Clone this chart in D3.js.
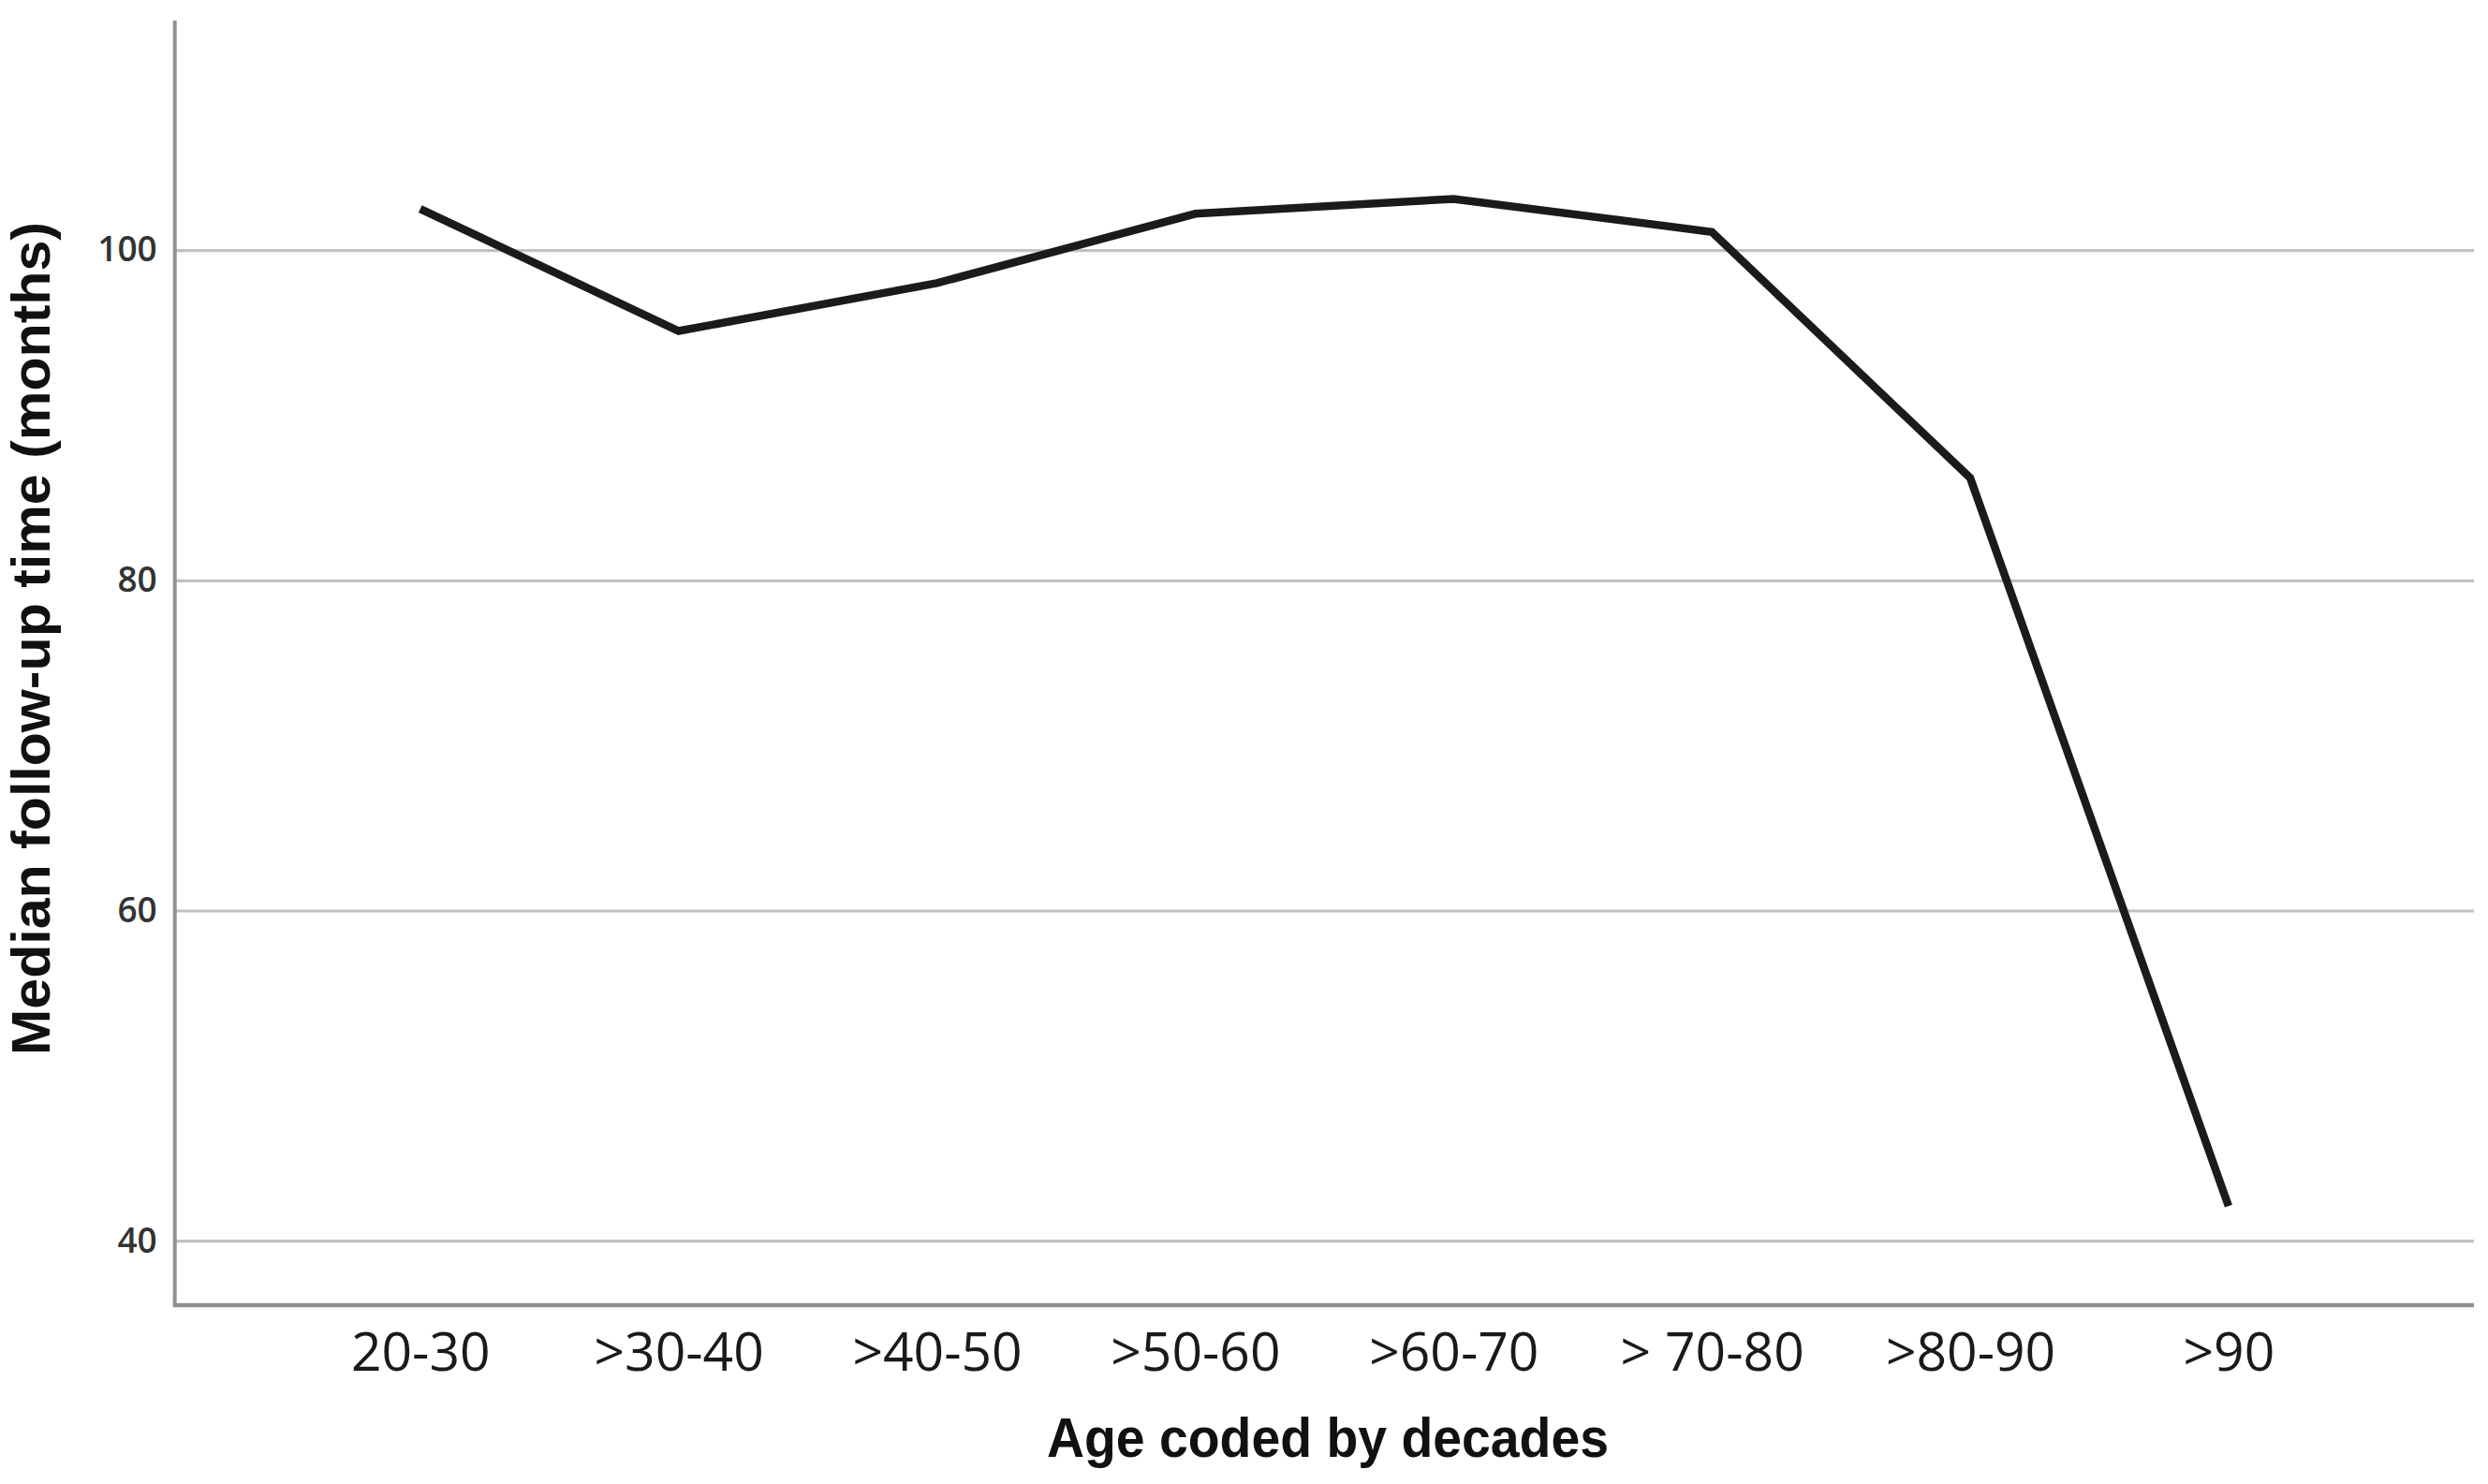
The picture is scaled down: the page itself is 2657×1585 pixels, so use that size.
<!DOCTYPE html>
<html>
<head>
<meta charset="utf-8">
<script src="https://cdn.jsdelivr.net/npm/d3@7"></script>
<style>
  html, body { margin: 0; padding: 0; background: #fff; }
  svg { display: block; }
</style>
</head>
<body>
<svg id="chart" width="2657" height="1585"></svg>
<script>
const categories = ["20-30", ">30-40", ">40-50", ">50-60", ">60-70", "> 70-80", ">80-90", ">90"];
const medianFollowUp = [102.5, 95.1, 98.0, 102.2, 103.1, 101.1, 86.2, 42.1];
const yTickValues = [40, 60, 80, 100];
const xTitle = "Age coded by decades";
const yTitle = "Median follow-up time (months)";

(function () {
const plotLeft = 186.7, plotRight = 2642, plotTop = 22, plotBottom = 1394;

const svg = d3.select("#chart");

const x = d3.scalePoint().domain(categories).range([plotLeft, plotRight]).padding(0.95);
const y = d3.scaleLinear().domain([36.1, 113.9]).range([plotBottom, plotTop]);

// gridlines
const grid = svg.append("g")
  .attr("transform", `translate(${plotLeft},0)`)
  .call(d3.axisLeft(y).tickValues(yTickValues).tickSize(-(plotRight - plotLeft)).tickFormat(""));
grid.select(".domain").remove();
grid.selectAll(".tick line").attr("stroke", "#bfc2c4").attr("stroke-width", 3.2);

// y axis labels
const yAxis = svg.append("g")
  .attr("transform", `translate(${plotLeft},0)`)
  .call(d3.axisLeft(y).tickValues(yTickValues).tickSize(0).tickPadding(19));
yAxis.select(".domain").remove();
yAxis.selectAll(".tick text")
  .attr("font-family", "'Open Sans', 'DejaVu Sans', sans-serif")
  .attr("font-size", 37)
  .attr("font-weight", 600)
  .attr("fill", "#333");

// x axis labels
const xAxis = svg.append("g")
  .attr("transform", `translate(0,${plotBottom})`)
  .call(d3.axisBottom(x).tickSize(0).tickPadding(29.5));
xAxis.select(".domain").remove();
xAxis.selectAll(".tick text")
  .attr("font-family", "'Open Sans', 'DejaVu Sans', sans-serif")
  .attr("font-size", 57)
  .attr("font-weight", 500)
  .attr("fill", "#1a1a1a");

// axis lines
svg.append("line")
  .attr("x1", plotLeft).attr("x2", plotLeft)
  .attr("y1", y.range()[1]).attr("y2", y.range()[0])
  .attr("stroke", "#8e9193").attr("stroke-width", 4);
svg.append("line")
  .attr("x1", plotLeft - 2).attr("x2", plotRight)
  .attr("y1", y.range()[0]).attr("y2", y.range()[0])
  .attr("stroke", "#8e9193").attr("stroke-width", 4.5);

// data line
const line = d3.line()
  .x((d, i) => x(categories[i]))
  .y(d => y(d));
svg.append("path")
  .datum(medianFollowUp)
  .attr("d", line)
  .attr("fill", "none")
  .attr("stroke", "#1c1a1b")
  .attr("stroke-width", 8.5)
  .attr("stroke-linejoin", "miter")
  .attr("stroke-linecap", "butt");

// titles
svg.append("text")
  .attr("x", 1418).attr("y", 1556)
  .attr("text-anchor", "middle")
  .attr("font-family", "'Liberation Sans Narrow', 'Liberation Sans', Arial, sans-serif")
  .attr("font-weight", "bold")
  .attr("font-size", 60)
  .attr("textLength", 600)
  .attr("lengthAdjust", "spacingAndGlyphs")
  .attr("fill", "#111")
  .text(xTitle);

svg.append("text")
  .attr("transform", "translate(53,682) rotate(-90)")
  .attr("text-anchor", "middle")
  .attr("font-family", "'Liberation Sans Narrow', 'Liberation Sans', Arial, sans-serif")
  .attr("font-weight", "bold")
  .attr("font-size", 57)
  .attr("textLength", 890)
  .attr("lengthAdjust", "spacingAndGlyphs")
  .attr("fill", "#111")
  .text(yTitle);
})();
</script>
</body>
</html>
